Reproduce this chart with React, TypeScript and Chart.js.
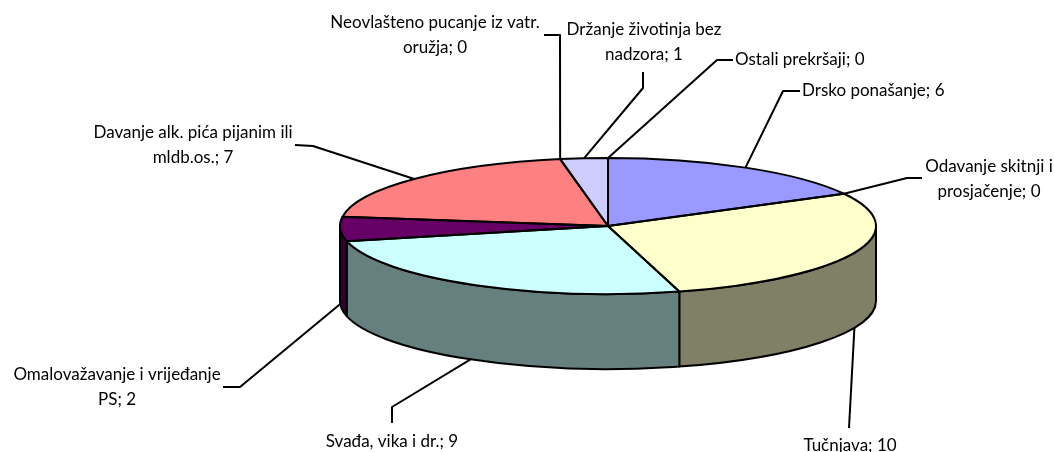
import React, { useEffect, useRef } from 'react';
import { Chart, registerables } from 'chart.js';

Chart.register(...registerables);

// ---- data ----
const categories = [
  'Drsko ponašanje',
  'Odavanje skitnji i prosjačenje',
  'Tučnjava',
  'Svađa, vika i dr.',
  'Omalovažavanje i vrijeđanje PS',
  'Davanje alk. pića pijanim ili mldb.os.',
  'Neovlašteno pucanje iz vatr. oružja',
  'Držanje životinja bez nadzora',
  'Ostali prekršaji',
];
const values = [6, 0, 10, 9, 2, 7, 0, 1, 0];
const topColors = ['#9999FF', '#993366', '#FFFFCC', '#CCFFFF', '#660066', '#FF8080', '#0066CC', '#CCCCFF', '#000080'];

// ---- layout (label placement, not data) ----
type LabelLayout = { wrap: number; align: 'left' | 'center'; tx: number; ty: number; path: number[][] };
const LABEL_LAYOUT: LabelLayout[] = [
  { wrap: 0, align: 'left', tx: 802, ty: 91, path: [[783, 91], [800, 91]] },
  { wrap: 3, align: 'center', tx: 989, ty: 167, path: [[907, 178], [922, 178]] },
  { wrap: 0, align: 'center', tx: 850, ty: 446, path: [[849, 428]] },
  { wrap: 0, align: 'center', tx: 392, ty: 442, path: [[392, 407], [392, 423]] },
  { wrap: 3, align: 'center', tx: 117, ty: 375, path: [[240, 387], [223, 387]] },
  { wrap: 5, align: 'center', tx: 193, ty: 133, path: [[313, 146], [295, 145]] },
  { wrap: 4, align: 'center', tx: 435, ty: 23, path: [[560, 35], [544, 35]] },
  { wrap: 3, align: 'center', tx: 644, ty: 30, path: [[643, 88], [643, 72]] },
  { wrap: 0, align: 'left', tx: 735, ty: 60, path: [[717, 60], [733, 60]] },
];

const W = 1054;
const H = 452;
const PAD_LEFT = 162;
const X_STRETCH = 268 / 226;
const TILT = 68 / 226;
const DEPTH_RATIO = 75 / 226;
const LINE_H = 25;
const FONT = '17px Lato';

function shade(hex: string, f: number) {
  const n = parseInt(hex.slice(1), 16);
  const r = Math.round(((n >> 16) & 255) * f);
  const g = Math.round(((n >> 8) & 255) * f);
  const b = Math.round((n & 255) * f);
  return `rgb(${r},${g},${b})`;
}

function geom(chart: any) {
  const meta = chart.getDatasetMeta(0);
  const a0: any = meta.data[0];
  const cx = a0.x, cy = a0.y, R = a0.outerRadius;
  return { meta, cx, cy, rx: R * X_STRETCH, ry: R * TILT, depth: R * DEPTH_RATIO };
}

const pie3d = {
  id: 'pie3d',
  beforeDatasetsDraw(chart: any) {
    const ctx: CanvasRenderingContext2D = chart.ctx;
    const { meta, cx, cy, rx, ry, depth } = geom(chart);
    ctx.save();
    ctx.lineWidth = 2;
    ctx.strokeStyle = '#000';
    ctx.lineJoin = 'round';
    meta.data.forEach((arc: any, i: number) => {
      if (!values[i]) return;
      const s = Math.max(arc.startAngle, 0);
      const e = Math.min(arc.endAngle, Math.PI);
      if (e <= s) return;
      ctx.beginPath();
      ctx.ellipse(cx, cy, rx, ry, 0, s, e);
      ctx.ellipse(cx, cy + depth, rx, ry, 0, e, s, true);
      ctx.closePath();
      ctx.fillStyle = shade(topColors[i], 0.5);
      ctx.fill();
      ctx.stroke();
    });
    ctx.restore();
    ctx.save();
    ctx.translate(cx, cy);
    ctx.scale(X_STRETCH, TILT);
    ctx.translate(-cx, -cy);
  },
  afterDatasetsDraw(chart: any) {
    const ctx: CanvasRenderingContext2D = chart.ctx;
    ctx.restore();
    const { meta, cx, cy, rx, ry, depth } = geom(chart);
    ctx.save();
    ctx.lineWidth = 2;
    ctx.strokeStyle = '#000';
    ctx.lineJoin = 'round';
    // top outlines
    meta.data.forEach((arc: any, i: number) => {
      if (!values[i]) return;
      ctx.beginPath();
      ctx.moveTo(cx, cy);
      ctx.ellipse(cx, cy, rx, ry, 0, arc.startAngle, arc.endAngle);
      ctx.closePath();
      ctx.stroke();
    });
    // leader lines + labels
    ctx.font = FONT;
    ctx.fillStyle = '#000';
    ctx.textBaseline = 'middle';
    meta.data.forEach((arc: any, i: number) => {
      const L = LABEL_LAYOUT[i];
      const mid = (arc.startAngle + arc.endAngle) / 2;
      const sy = Math.sin(mid);
      const px = cx + rx * Math.cos(mid);
      const py = cy + ry * sy + (sy > 0 ? depth : 0);
      ctx.beginPath();
      ctx.moveTo(px, py);
      L.path.forEach((p) => ctx.lineTo(p[0], p[1]));
      ctx.stroke();
      const words = `${categories[i]}; ${values[i]}`.split(' ');
      const lines = L.wrap > 0 ? [words.slice(0, L.wrap).join(' '), words.slice(L.wrap).join(' ')] : [words.join(' ')];
      ctx.textAlign = L.align;
      lines.forEach((t, k) => ctx.fillText(t, L.tx, L.ty + k * LINE_H));
    });
    ctx.restore();
  },
};

export default function App() {
  const ref = useRef<HTMLCanvasElement>(null);
  useEffect(() => {
    if (!ref.current) return;
    const chart = new Chart(ref.current, {
      type: 'pie',
      data: {
        labels: categories,
        datasets: [
          {
            data: values,
            backgroundColor: topColors,
            borderWidth: 0,
            clip: false as any,
          },
        ],
      },
      options: {
        responsive: false,
        animation: false,
        events: [],
        layout: { padding: { left: PAD_LEFT, right: 0, top: 0, bottom: 0 } },
        plugins: { legend: { display: false }, tooltip: { enabled: false } },
      },
      plugins: [pie3d],
    });
    return () => chart.destroy();
  }, []);
  return (
    <div style={{ position: 'fixed', left: 0, top: 0, width: W, height: H, background: '#fff' }}>
      <canvas ref={ref} width={W} height={H} style={{ width: W, height: H }} />
    </div>
  );
}
